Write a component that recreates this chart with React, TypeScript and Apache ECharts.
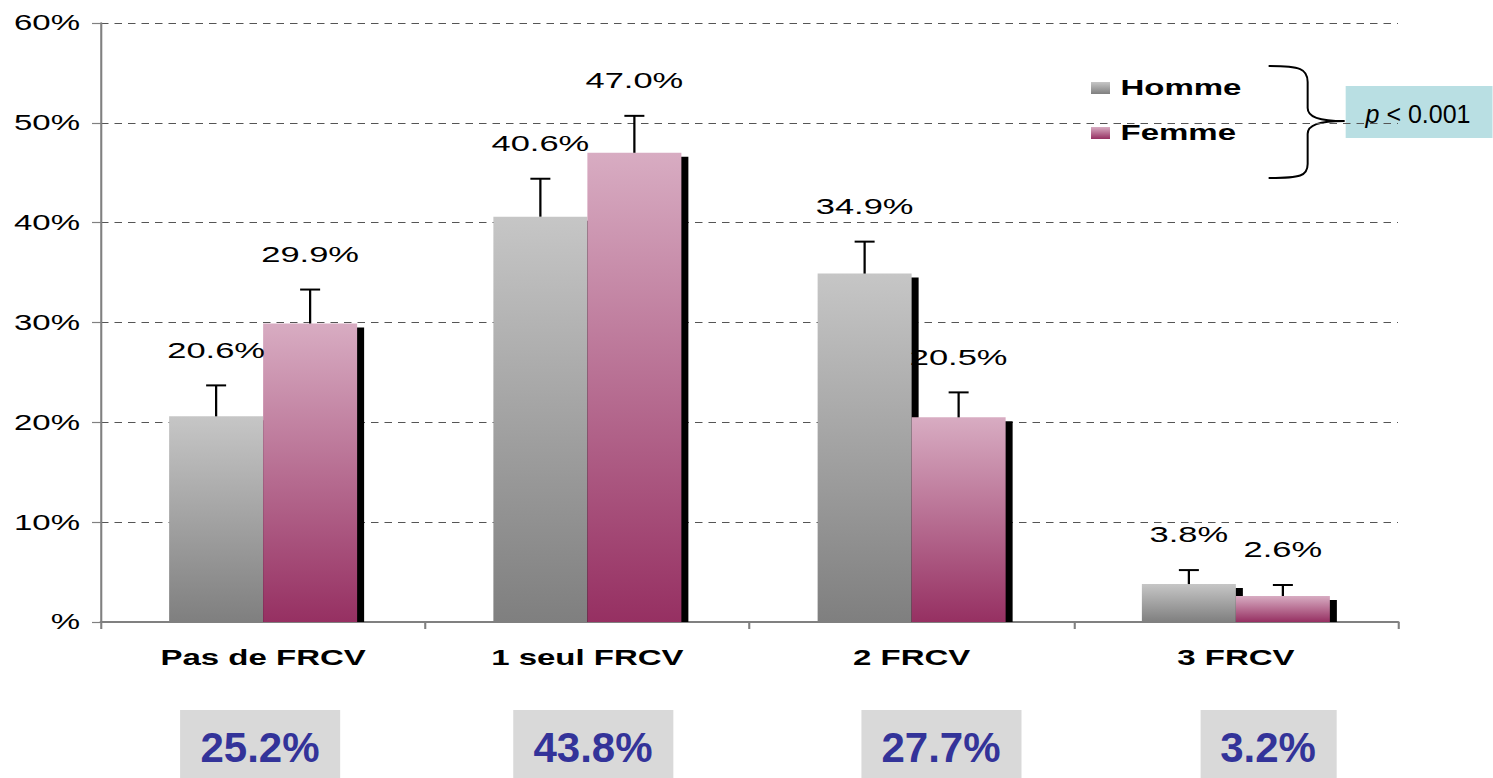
import React, { useEffect, useRef } from 'react';
import * as echarts from 'echarts';

// ---------- data ----------
const categories = ['Pas de FRCV', '1 seul FRCV', '2 FRCV', '3 FRCV'];
const hommeValues = [20.6, 40.6, 34.9, 3.8];
const femmeValues = [29.9, 47.0, 20.5, 2.6];
const hommeErrTop = [23.7, 44.4, 38.1, 5.2];
const femmeErrTop = [33.3, 50.7, 23.0, 3.7];
const totals = ['25.2%', '43.8%', '27.7%', '3.2%'];
const seriesNames = ['Homme', 'Femme'];
const pValueRich = '{i|p} < 0.001';

// ---------- layout / style ----------
const S = 1.5; // horizontal stretch of the original picture
const W = 1493;
const H = 778;
const CW = W / S;
const BAR_W = 94 / S;
const SHADOW_DX = 7 / S;
const SHADOW_DY = 4;
const CAP_W = 20 / S;
const LABEL_GAP = 36;
const FONT = '"Liberation Sans", Arial, sans-serif';
const boxLayout = [
  { x: 180, w: 160 },
  { x: 513, w: 160 },
  { x: 861, w: 160 },
  { x: 1200, w: 136 },
];

const hommeColor = new echarts.graphic.LinearGradient(0, 0, 0, 1, [
  { offset: 0, color: '#c6c6c6' },
  { offset: 1, color: '#7f7f7f' },
]);
const femmeColor = new echarts.graphic.LinearGradient(0, 0, 0, 1, [
  { offset: 0, color: '#d8acc2' },
  { offset: 1, color: '#963062' },
]);

echarts.graphic.registerShape(
  'brace',
  echarts.graphic.extendPath(
    'M1268,66 C1300,66 1307,69 1307,82 L1307,108 C1307,117 1318,121 1344,121 C1318,121 1307,125 1307,134 L1307,164 C1307,176 1300,178 1268,178',
    {}
  )
);

function makeShadowRender(side: number) {
  return (params: any, api: any) => {
    const idx = api.value(0);
    const v = api.value(1);
    const top = api.coord([idx, v]);
    const base = api.coord([idx, 0]);
    const cx = top[0] + (side * BAR_W) / 2;
    const left = cx - BAR_W / 2;
    const y = top[1] + SHADOW_DY;
    return {
      type: 'rect',
      shape: { x: left + SHADOW_DX, y, width: BAR_W, height: Math.max(0, base[1] - y) },
      style: { fill: '#000' },
    };
  };
}

function makeErrRender(side: number) {
  return (params: any, api: any) => {
    const idx = api.value(0);
    const v = api.value(1);
    const e = api.value(2);
    const c = api.coord([idx, v]);
    const t = api.coord([idx, e]);
    const cx = c[0] + (side * BAR_W) / 2;
    return {
      type: 'group',
      children: [
        { type: 'line', shape: { x1: cx, y1: c[1], x2: cx, y2: t[1] }, style: { stroke: '#000', lineWidth: 1.5 } },
        { type: 'line', shape: { x1: cx - CAP_W / 2, y1: t[1], x2: cx + CAP_W / 2, y2: t[1] }, style: { stroke: '#000', lineWidth: 2 } },
        {
          type: 'text',
          x: cx,
          y: t[1] - LABEL_GAP,
          style: {
            text: v.toFixed(1) + '%',
            fill: '#000',
            fontSize: 23,
            fontFamily: FONT,
            align: 'center',
            verticalAlign: 'middle',
          },
        },
      ],
    };
  };
}

export default function App() {
  const ref = useRef<HTMLDivElement>(null);

  useEffect(() => {
    if (!ref.current) return;
    const chart = echarts.init(ref.current, null, { renderer: 'svg', width: CW, height: H });

    const graphicChildren: any[] = [];
    boxLayout.forEach((b, i) => {
      graphicChildren.push({
        type: 'rect',
        shape: { x: b.x, y: 710, width: b.w, height: 70 },
        style: { fill: '#d9d9d9' },
      });
      graphicChildren.push({
        type: 'text',
        x: b.x + b.w / 2,
        y: 748,
        style: {
          text: totals[i],
          fill: '#333399',
          fontSize: 42,
          fontWeight: 'bold',
          fontFamily: FONT,
          align: 'center',
          verticalAlign: 'middle',
        },
      });
    });
    graphicChildren.push({
      type: 'rect',
      shape: { x: 1345, y: 86, width: 150, height: 52 },
      style: { fill: '#b9dfe3' },
    });
    graphicChildren.push({
      type: 'text',
      x: 1418,
      y: 114,
      style: {
        text: pValueRich,
        fill: '#000',
        fontSize: 25,
        fontFamily: FONT,
        align: 'center',
        verticalAlign: 'middle',
        rich: { i: { fontStyle: 'italic', fontSize: 25, fontFamily: FONT, fill: '#000' } },
      },
    });
    graphicChildren.push({
      type: 'brace',
      x: 0,
      y: 0,
      style: { stroke: '#000', fill: 'none', lineWidth: 2 },
    });

    chart.setOption({
      animation: false,
      backgroundColor: '#fff',
      textStyle: { fontFamily: FONT },
      grid: { left: 101 / S, right: (W - 1398) / S, top: 23, bottom: H - 622, containLabel: false },
      legend: {
        data: seriesNames,
        orient: 'vertical',
        left: 1091 / S,
        top: 77,
        padding: 0,
        itemWidth: 19 / S,
        itemHeight: 12,
        itemGap: 23,
        icon: 'rect',
        textStyle: { fontSize: 22, fontWeight: 'bold', color: '#000', fontFamily: FONT, padding: [0, 0, 0, 2] },
      },
      xAxis: {
        type: 'category',
        data: categories,
        axisLine: { lineStyle: { color: '#808080', width: 2 } },
        axisTick: { show: true, length: 7, lineStyle: { color: '#808080', width: 1.4 } },
        axisLabel: { fontSize: 22, fontWeight: 'bold', color: '#000', margin: 25, fontFamily: FONT },
      },
      yAxis: {
        type: 'value',
        min: 0,
        max: 60,
        interval: 10,
        axisLine: { show: true, lineStyle: { color: '#808080', width: 1.4 } },
        axisTick: { show: true, length: 6, lineStyle: { color: '#808080', width: 1.2 } },
        axisLabel: {
          fontSize: 22,
          color: '#000',
          margin: 14,
          fontFamily: FONT,
          formatter: (v: number) => (v === 0 ? '%' : v + '%'),
        },
        splitLine: { show: true, lineStyle: { color: '#555', type: [5, 4], width: 1 } },
      },
      series: [
        {
          type: 'custom',
          name: 'Homme ombre',
          z: 1,
          renderItem: makeShadowRender(-1),
          data: hommeValues.map((v, i) => [i, v]),
          encode: { x: 0, y: 1 },
          silent: true,
        },
        {
          type: 'custom',
          name: 'Femme ombre',
          z: 1,
          renderItem: makeShadowRender(1),
          data: femmeValues.map((v, i) => [i, v]),
          encode: { x: 0, y: 1 },
          silent: true,
        },
        {
          type: 'bar',
          name: seriesNames[0],
          z: 2,
          barWidth: BAR_W,
          barGap: '0%',
          itemStyle: { color: hommeColor },
          data: hommeValues,
        },
        {
          type: 'bar',
          name: seriesNames[1],
          z: 2,
          barWidth: BAR_W,
          barGap: '0%',
          itemStyle: { color: femmeColor },
          data: femmeValues,
        },
        {
          type: 'custom',
          name: 'Homme erreur',
          z: 3,
          renderItem: makeErrRender(-1),
          data: hommeValues.map((v, i) => [i, v, hommeErrTop[i]]),
          encode: { x: 0, y: [1, 2] },
          silent: true,
        },
        {
          type: 'custom',
          name: 'Femme erreur',
          z: 3,
          renderItem: makeErrRender(1),
          data: femmeValues.map((v, i) => [i, v, femmeErrTop[i]]),
          encode: { x: 0, y: [1, 2] },
          silent: true,
        },
      ],
      graphic: [
        {
          type: 'group',
          x: 0,
          y: 0,
          scaleX: 1 / S,
          scaleY: 1,
          z: 10,
          children: graphicChildren,
        },
      ],
    });

    return () => chart.dispose();
  }, []);

  return (
    <div style={{ position: 'absolute', left: 0, top: 0, width: W, height: H, overflow: 'hidden', background: '#fff' }}>
      <div
        ref={ref}
        style={{ width: CW, height: H, transform: `scaleX(${S})`, transformOrigin: '0 0' }}
      />
    </div>
  );
}
